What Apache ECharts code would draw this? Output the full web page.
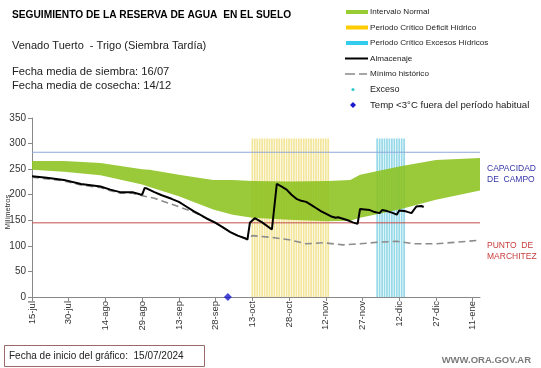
<!DOCTYPE html>
<html><head><meta charset="utf-8">
<script src="https://cdn.jsdelivr.net/npm/echarts@6/dist/echarts.min.js"></script>
<style>html,body{margin:0;padding:0;background:#fff}#c{width:541px;height:368px}</style>
</head><body><div id="c"></div>
<script>
// ---- data ----
const startDate = [2024, 6, 15];           // 15/07/2024 (month 0-based)
const nDays = 184;                          // days shown on the category axis
const monthAbbr = ['ene','feb','mar','abr','may','jun','jul','ago','sep','oct','nov','dic'];

const bandDays  = [0,   13,  28,  45,  48,  60,  74,  82,  90,  105, 121, 130, 134, 150, 165, 183];
const bandUpper = [266, 266, 262, 250, 249, 239, 229, 229, 227, 226, 227, 229, 239, 255, 268, 272];
const bandLower = [249, 245, 238, 220, 215, 197, 171, 161, 155, 151, 148, 149, 155, 171, 190, 208];

const storageDays   = [0,  6,  13, 20, 28, 32, 36, 41, 44, 45, 46, 47, 50, 53, 57, 60, 63, 66, 69, 72, 75, 78, 81, 84, 87, 88, 89, 91, 94, 98, 100, 102, 104, 106, 108, 110, 112, 114, 116, 118, 120, 122, 124, 125, 127, 129, 131, 133, 134, 136, 138, 140, 142, 143, 145, 147, 149, 150, 152, 153, 155, 157, 159, 160];
const storageValues = [236,233,229,221,216,210,205,205,201,200,213,212,205,199,192,186,177,168,160,152,145,136,127,120,115,112,145,154,146,132,221, 216, 210, 200, 192, 188, 186, 180, 174, 168, 163, 158, 155, 156, 153, 150, 146, 143, 172, 171, 170, 166, 164, 170, 168, 165, 161, 169, 168, 167, 164, 177, 178, 176];

const minHistDays   = [0,  6,  13, 20, 28, 32, 36, 41, 44, 50, 58, 66, 72, 75, 81, 84, 88, 90, 97, 105, 112, 119, 127, 134, 141, 149, 156, 165, 173, 183];
const minHistValues = [234,231,227,219,214,208,203,203,199,193,180,166,152,145,127,120,113,120,117,112, 104, 106, 102, 104, 107, 109, 104, 104, 107, 111];

const deficitPeriod = [90, 121];   // Periodo Crítico Déficit Hídrico (day indices)
const excessPeriod  = [141, 152];  // Periodo Crítico Excesos Hídricos
const periodHeight  = 310;
const fieldCapacity = 283;         // Capacidad de campo
const wiltingPoint  = 145;         // Punto de marchitez
const frostDays   = [80];          // Temp <3°C fuera del período habitual
const frostValues = [0];

// ---- derived ----
const categories = [];
for (let i = 0; i < nDays; i++) {
  const d = new Date(startDate[0], startDate[1], startDate[2] + i);
  categories.push(d.getDate() + '-' + monthAbbr[d.getMonth()]);
}
const pairs = (xs, ys) => xs.map((x, i) => [x, ys[i]]);
const periodBars = (p) => { const r = []; for (let d = p[0]; d <= p[1]; d++) r.push([d, periodHeight]); return r; };

const FONT = '"Liberation Sans", Arial, sans-serif';
const chart = echarts.init(document.getElementById('c'), null, {renderer: 'canvas'});

function txt(x, y, text, size, color, extra) {
  return Object.assign({type: 'text', x: x, y: y, silent: true,
    style: Object.assign({text: text, font: size + 'px ' + FONT, fill: color, textVerticalAlign: 'middle'}, extra || {})});
}

const legendY = [12, 27.5, 43, 58.5, 74, 89.5, 105];
const LX = 346, TX = 370, LF = 8.1, LC = '#222';

chart.setOption({
  animation: false,
  backgroundColor: '#fff',
  grid: {left: 32, right: 61, top: 118, bottom: 71, containLabel: false, outerBoundsMode: 'none'},
  xAxis: {
    type: 'category', data: categories, boundaryGap: false,
    axisLine: {lineStyle: {color: '#888', width: 1}},
    axisTick: {interval: 14, length: 4, lineStyle: {color: '#888'}},
    axisLabel: {interval: 14, rotate: 90, fontSize: 9.5, color: '#333', margin: 4, fontFamily: FONT},
    splitLine: {show: false}
  },
  yAxis: {
    type: 'value', min: 0, max: 350, interval: 50,
    axisLine: {show: true, lineStyle: {color: '#888'}},
    axisTick: {show: true, length: 4, lineStyle: {color: '#888'}},
    axisLabel: {fontSize: 10, color: '#333', margin: 6, fontFamily: FONT},
    splitLine: {show: false}
  },
  series: [
    {type: 'bar', stack: 'periods', data: periodBars(deficitPeriod), barCategoryGap: '30%',
     itemStyle: {color: '#f3e69a'}, z: 1},
    {type: 'bar', stack: 'periods', data: periodBars(excessPeriod),
     itemStyle: {color: '#96d9e8'}, z: 1},
    {type: 'line', stack: 'band', data: pairs(bandDays, bandLower), symbol: 'none',
     lineStyle: {width: 0, opacity: 0}, z: 2},
    {type: 'line', stack: 'band', data: pairs(bandDays, bandUpper.map((u, i) => u - bandLower[i])), symbol: 'none',
     lineStyle: {width: 0, opacity: 0}, areaStyle: {color: '#8cc21f', opacity: 0.88}, z: 2},
    {type: 'line', data: [[0, fieldCapacity], [nDays - 1, fieldCapacity]], symbol: 'none',
     lineStyle: {color: '#8fa8d8', width: 1.2}, z: 3},
    {type: 'line', data: [[0, wiltingPoint], [nDays - 1, wiltingPoint]], symbol: 'none',
     lineStyle: {color: '#c0504d', width: 1}, z: 3},
    {type: 'line', data: pairs(minHistDays, minHistValues), symbol: 'none',
     lineStyle: {color: '#8c8c8c', width: 1.6, type: [7, 4]}, z: 4},
    {type: 'line', data: pairs(storageDays, storageValues), symbol: 'none',
     lineStyle: {color: '#000', width: 2}, z: 5},
    {type: 'scatter', data: pairs(frostDays, frostValues), symbol: 'diamond', symbolSize: 8,
     itemStyle: {color: '#1a1acc'}, z: 6}
  ],
  graphic: [
    txt(12, 15, 'SEGUIMIENTO DE LA RESERVA DE AGUA  EN EL SUELO', 10.2, '#000', {font: 'bold 10.2px ' + FONT}),
    txt(12, 46, 'Venado Tuerto  - Trigo (Siembra Tardía)', 11, '#222'),
    txt(12, 72, 'Fecha media de siembra: 16/07', 11.2, '#222'),
    txt(12, 86, 'Fecha media de cosecha: 14/12', 11.2, '#222'),
    // y axis title
    {type: 'text', x: 8, y: 212, rotation: Math.PI / 2, silent: true, z: 10,
     style: {text: 'Milímetros', font: '7.5px ' + FONT, fill: '#333', textAlign: 'center', textVerticalAlign: 'middle'}},
    // legend
    {type: 'rect', shape: {x: LX, y: legendY[0] - 2, width: 22, height: 4}, style: {fill: '#99cc33'}, silent: true},
    txt(TX, legendY[0], 'Intervalo Normal', LF, LC),
    {type: 'rect', shape: {x: LX, y: legendY[1] - 2, width: 22, height: 4}, style: {fill: '#ffcc00'}, silent: true},
    txt(TX, legendY[1], 'Periodo Crítico Déficit Hídrico', LF, LC),
    {type: 'rect', shape: {x: LX, y: legendY[2] - 2, width: 22, height: 4}, style: {fill: '#33ccee'}, silent: true},
    txt(TX, legendY[2], 'Periodo Crítico Excesos Hídricos', LF, LC),
    {type: 'line', shape: {x1: LX - 1, y1: legendY[3], x2: LX + 22, y2: legendY[3]}, style: {stroke: '#000', lineWidth: 2}, silent: true},
    txt(TX, legendY[3], 'Almacenaje', LF, LC),
    {type: 'line', shape: {x1: LX - 1, y1: legendY[4], x2: LX + 9, y2: legendY[4]}, style: {stroke: '#888', lineWidth: 1.5}, silent: true},
    {type: 'line', shape: {x1: LX + 13, y1: legendY[4], x2: LX + 21, y2: legendY[4]}, style: {stroke: '#888', lineWidth: 1.5}, silent: true},
    txt(TX, legendY[4], 'Mínimo histórico', LF, LC),
    {type: 'circle', shape: {cx: LX + 7, cy: legendY[5], r: 1.6}, style: {fill: '#33cccc'}, silent: true},
    txt(TX, legendY[5], 'Exceso', 9, LC),
    {type: 'polygon', shape: {points: [[LX + 7, legendY[6] - 3], [LX + 10, legendY[6]], [LX + 7, legendY[6] + 3], [LX + 4, legendY[6]]]}, style: {fill: '#1a1acc'}, silent: true},
    txt(TX, legendY[6], 'Temp <3°C fuera del período habitual', 9.6, LC),
    // side labels
    txt(487, 169, 'CAPACIDAD', 8.5, '#3535a8'),
    txt(487, 180, 'DE  CAMPO', 8.5, '#3535a8'),
    txt(487, 246, 'PUNTO  DE', 8.5, '#c83c3c'),
    txt(487, 257, 'MARCHITEZ', 8.5, '#c83c3c'),
    // footer
    {type: 'rect', shape: {x: 4.5, y: 345.5, width: 200, height: 21}, style: {fill: 'none', stroke: '#9a6a6a', lineWidth: 1}, silent: true},
    txt(9, 356, 'Fecha de inicio del gráfico:  15/07/2024', 10, '#222'),
    txt(531, 360, 'WWW.ORA.GOV.AR', 9.5, '#7a7a7a', {font: 'bold 9.5px ' + FONT, textAlign: 'right'})
  ]
});
</script>
</body></html>
